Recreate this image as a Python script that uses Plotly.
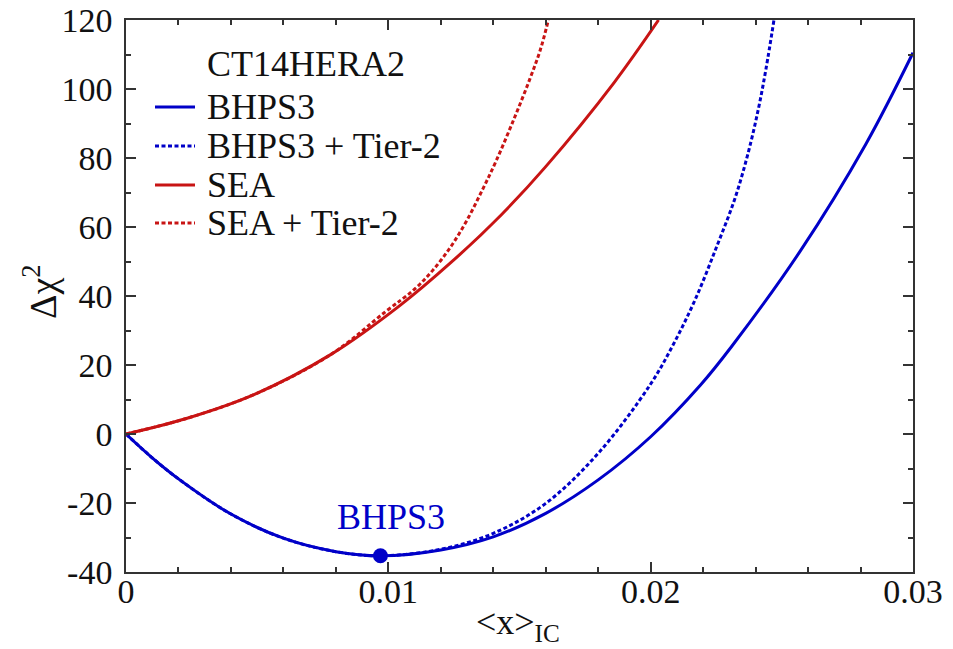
import plotly.graph_objects as go

# ---- data ----
bhps3_x = [0, 0.001, 0.002, 0.004, 0.006, 0.008, 0.0097, 0.012, 0.014, 0.016, 0.018,
           0.020, 0.0219, 0.0231, 0.0257, 0.0282, 0.0300]
bhps3_y = [0, -6.9, -13, -23.2, -30.2, -34.1, -35.3, -33.6, -29.8, -23, -13.3,
           -0.8, 14.2, 25.5, 53, 84, 110.5]

bhps3_t2_x = [0, 0.001, 0.002, 0.004, 0.006, 0.008, 0.0097, 0.012, 0.014, 0.016, 0.018,
              0.020, 0.0209, 0.0217, 0.0225, 0.0232, 0.0237, 0.0241, 0.0244, 0.0247]
bhps3_t2_y = [0, -6.9, -13, -23.2, -30.2, -34.1, -35.3, -33.4, -28.8, -20.1, -5.6,
              14.5, 26.5, 39, 54, 68, 81, 94, 106, 120]

sea_x = [0, 0.0023, 0.0049, 0.0078, 0.0104, 0.0124, 0.0143, 0.0160, 0.0186, 0.0203]
sea_y = [0, 4.5, 11.5, 23, 37, 49.8, 63.5, 77.5, 101.8, 120]

sea_t2_x = [0, 0.0023, 0.0049, 0.0078, 0.0099, 0.0110, 0.0117, 0.0124, 0.0130, 0.0136,
            0.0141, 0.0148, 0.0154, 0.0158, 0.0161]
sea_t2_y = [0, 4.5, 11.5, 23, 35.5, 42, 47.5, 54.5, 62, 71, 79, 91.5, 103, 111.5, 120]

min_x = [0.0097]
min_y = [-35.3]

x_tickvals = [0, 0.01, 0.02, 0.03]
x_ticktext = ["0", "0.01", "0.02", "0.03"]
y_tickvals = [-40, -20, 0, 20, 40, 60, 80, 100, 120]
y_ticktext = ["-40", "-20", "0", "20", "40", "60", "80", "100", "120"]

series_names = ["BHPS3", "BHPS3 + Tier-2", "SEA", "SEA + Tier-2"]

BLUE = "#0000C8"
RED = "#C81414"
FONT = "Liberation Serif, Times New Roman, DejaVu Serif, serif"
FS_TICK = 34
FS_TEXT = 36
DASH = "4px,2.5px"
SM = 1.0

fig = go.Figure()
fig.add_trace(go.Scatter(x=bhps3_x, y=bhps3_y, mode="lines", name=series_names[0],
                         line=dict(color=BLUE, width=3, shape="spline", smoothing=SM)))
fig.add_trace(go.Scatter(x=bhps3_t2_x, y=bhps3_t2_y, mode="lines", name=series_names[1],
                         line=dict(color=BLUE, width=3, dash=DASH, shape="spline", smoothing=SM)))
fig.add_trace(go.Scatter(x=sea_x, y=sea_y, mode="lines", name=series_names[2],
                         line=dict(color=RED, width=3, shape="spline", smoothing=SM)))
fig.add_trace(go.Scatter(x=sea_t2_x, y=sea_t2_y, mode="lines", name=series_names[3],
                         line=dict(color=RED, width=3, dash=DASH, shape="spline", smoothing=SM)))
fig.add_trace(go.Scatter(x=min_x, y=min_y, mode="markers", name="min",
                         marker=dict(color=BLUE, size=15), cliponaxis=False))

W, H = 953, 649
L, R, T, B = 126, 40, 20, 77
pw, ph = W - L - R, H - T - B


def px2x(px):
    return (px - L) / pw


def py2y(py):
    return (T + ph - py) / ph


axis_common = dict(
    showgrid=False, zeroline=False, showline=True, linecolor="#333333", linewidth=1.5,
    mirror="ticks", ticks="inside", ticklen=10, tickwidth=1.5, tickcolor="#333333",
    tickfont=dict(family=FONT, size=FS_TICK, color="#111111"),
)

fig.update_layout(
    width=W, height=H,
    margin=dict(l=L, r=R, t=T, b=B, autoexpand=False),
    paper_bgcolor="white", plot_bgcolor="white",
    showlegend=False,
    xaxis=dict(range=[0, 0.03], tickvals=x_tickvals, ticktext=x_ticktext,
               minor=dict(dtick=0.002, ticks="inside", ticklen=5, tickwidth=1.5, tickcolor="#333333"),
               ticklabelstandoff=-12, **axis_common),
    yaxis=dict(range=[-40, 120], tickvals=y_tickvals, ticktext=y_ticktext,
               minor=dict(dtick=10, ticks="inside", ticklen=5, tickwidth=1.5, tickcolor="#333333"),
               ticklabelstandoff=5, **axis_common),
)

annotations = [
    dict(text="Δχ<sup>2</sup>", x=px2x(40), y=py2y(292), xref="paper", yref="paper",
         xanchor="center", yanchor="middle",
         textangle=-90, showarrow=False, font=dict(family=FONT, size=38, color="#111111")),
    dict(text="&lt;x&gt;<sub>IC</sub>", x=px2x(518), y=py2y(624), xref="paper", yref="paper",
         xanchor="center", yanchor="middle",
         showarrow=False, font=dict(family=FONT, size=FS_TEXT, color="#111111")),
    dict(text="BHPS3", x=0.0101, y=-24, xref="x", yref="y", showarrow=False,
         xanchor="center", yanchor="middle",
         font=dict(family=FONT, size=FS_TEXT, color=BLUE)),
    dict(text="CT14HERA2", x=px2x(205), y=py2y(64), xref="paper", yref="paper",
         xanchor="left", yanchor="middle",
         showarrow=False, font=dict(family=FONT, size=FS_TEXT, color="#111111")),
]

rows_py = [107, 146, 185, 223]
styles = [(BLUE, "solid"), (BLUE, DASH), (RED, "solid"), (RED, DASH)]
shapes = []
for name, rp, (col, dsh) in zip(series_names, rows_py, styles):
    shapes.append(dict(type="line", xref="paper", yref="paper",
                       x0=px2x(155), x1=px2x(195), y0=py2y(rp), y1=py2y(rp),
                       line=dict(color=col, width=3, dash=dsh)))
    annotations.append(dict(text=name, x=px2x(205), y=py2y(rp), xref="paper", yref="paper",
                            xanchor="left", yanchor="middle", showarrow=False,
                            font=dict(family=FONT, size=FS_TEXT, color="#111111")))

fig.update_layout(annotations=annotations, shapes=shapes)

# remove the browser's default 8px body margin so the figure fills the window exactly
fig.write_html("out.html",
               config={"displayModeBar": False},
               post_script="document.body.style.margin='0';document.body.style.overflow='hidden';")
